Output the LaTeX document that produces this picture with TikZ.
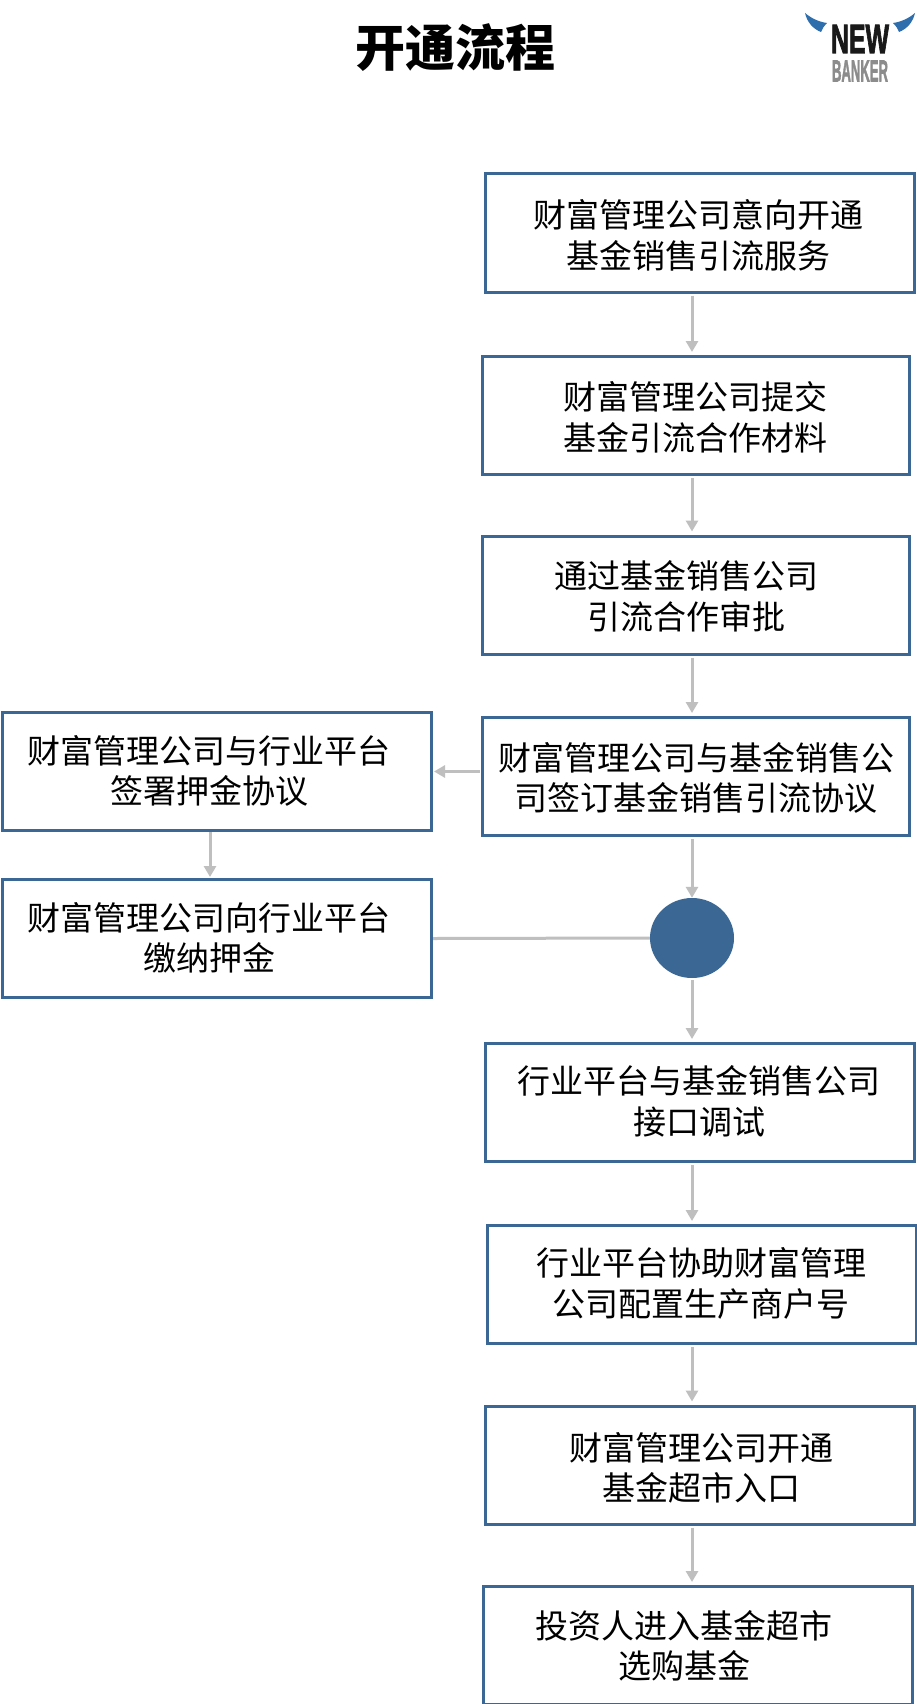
\documentclass[tikz,border=0pt]{standalone}
\usepackage{fontspec}
\setmainfont{Noto Sans CJK SC}
\newfontfamily\logofont{Liberation Sans}[BoldFeatures={FakeBold=2.5}]
\definecolor{boxblue}{HTML}{3A6794}
\definecolor{linegray}{HTML}{BFBFBF}
\definecolor{hornblue}{HTML}{2F6EAD}
\usetikzlibrary{arrows.meta,shapes.geometric}
\tikzset{
  flowbox/.style={draw=boxblue,line width=3pt,fill=white,minimum height=118pt,inner sep=0pt},
  wideflow/.style={flowbox,minimum width=429pt},
  narrowflow/.style={flowbox,minimum width=427pt},
  boxtext/.style={font=\fontsize{33}{40.5}\selectfont,align=center,inner sep=0pt,text=black},
  link/.style={draw=linegray,line width=3pt,-{Triangle[length=11pt,width=12pt]}},
  plainlink/.style={draw=linegray,line width=3pt},
}
\begin{document}
\begin{tikzpicture}[x=1pt,y=-1pt]
\useasboundingbox (0,0) rectangle (916,1704);
\fill[white] (0,0) rectangle (916,1704);
\node[font=\fontsize{50}{50}\selectfont\bfseries,inner sep=0pt] (title) at (455,48) {开通流程};
% logo
\fill[hornblue] (805,13) .. controls (812,19) and (820,22) .. (827,23) .. controls (824,26) and (822,29) .. (821,32) .. controls (813,29) and (807,22) .. (805,13) -- cycle;
\fill[hornblue] (915,13) .. controls (908,19) and (900,22) .. (893,23) .. controls (896,26) and (898,29) .. (899,32) .. controls (907,29) and (913,22) .. (915,13) -- cycle;
\node[inner sep=0pt,text=black!90] (lognew) at (860,39) {\logofont\bfseries\resizebox{58pt}{28pt}{NEW}};
\node[inner sep=0pt,text=black!45] (logbank) at (860,71) {\logofont\bfseries\resizebox{56pt}{21pt}{BANKER}};
% boxes
\node[wideflow] (b1) at (699.5,233) {};
\node[narrowflow] (b2) at (695.5,415.5) {};
\node[narrowflow] (b3) at (695.5,595) {};
\node[narrowflow] (b4) at (695.5,776.5) {};
\node[wideflow] (l1) at (217,771.5) {};
\node[wideflow] (l2) at (217,938.5) {};
\node[fill=boxblue,draw=none,ellipse,minimum width=84pt,minimum height=80pt,inner sep=0pt] (hub) at (692,938) {};
\node[wideflow] (b5) at (699.5,1102.5) {};
\node[wideflow] (b6) at (701.5,1284.5) {};
\node[wideflow] (b7) at (699.5,1465) {};
\node[wideflow] (b8) at (697.5,1645.5) {};
% text
\node[boxtext] at (698,235.5) {财富管理公司意向开通\\基金销售引流服务};
\node[boxtext] at (695,417.5) {财富管理公司提交\\基金引流合作材料};
\node[boxtext] at (686,596.5) {通过基金销售公司\\引流合作审批};
\node[boxtext] at (696,778) {财富管理公司与基金销售公\\司签订基金销售引流协议};
\node[boxtext] at (209,771) {财富管理公司与行业平台\\签署押金协议};
\node[boxtext] at (209,938) {财富管理公司向行业平台\\缴纳押金};
\node[boxtext] at (699,1101.5) {行业平台与基金销售公司\\接口调试};
\node[boxtext] at (701,1283.5) {行业平台协助财富管理\\公司配置生产商户号};
\node[boxtext] at (701,1468) {财富管理公司开通\\基金超市入口};
\node[boxtext] at (684,1646) {投资人进入基金超市\\选购基金};
% connectors
\coordinate (axis) at (692,0);
\coordinate (laxis) at (210,0);
\draw[link,shorten <=2pt,shorten >=3pt] (b1.south -| axis) -- (b2.north -| axis);
\draw[link,shorten <=2pt,shorten >=3pt] (b2.south -| axis) -- (b3.north -| axis);
\draw[link,shorten <=2pt,shorten >=3pt] (b3.south -| axis) -- (b4.north -| axis);
\draw[link,shorten <=2pt,shorten >=0pt] (b4.south -| axis) -- (hub.north);
\draw[link,shorten <=2pt,shorten >=3pt] (hub.south) -- (b5.north -| axis);
\draw[link,shorten <=2pt,shorten >=3pt] (b5.south -| axis) -- (b6.north -| axis);
\draw[link,shorten <=2pt,shorten >=3pt] (b6.south -| axis) -- (b7.north -| axis);
\draw[link,shorten <=2pt,shorten >=3pt] (b7.south -| axis) -- (b8.north -| axis);
\draw[link,shorten <=1pt,shorten >=1pt] (b4.west |- l1.east) -- (l1.east);
\draw[link,shorten <=0pt,shorten >=1pt] (l1.south -| laxis) -- (l2.north -| laxis);
\draw[plainlink] (l2.east) -- (hub.west);
\end{tikzpicture}
\end{document}
